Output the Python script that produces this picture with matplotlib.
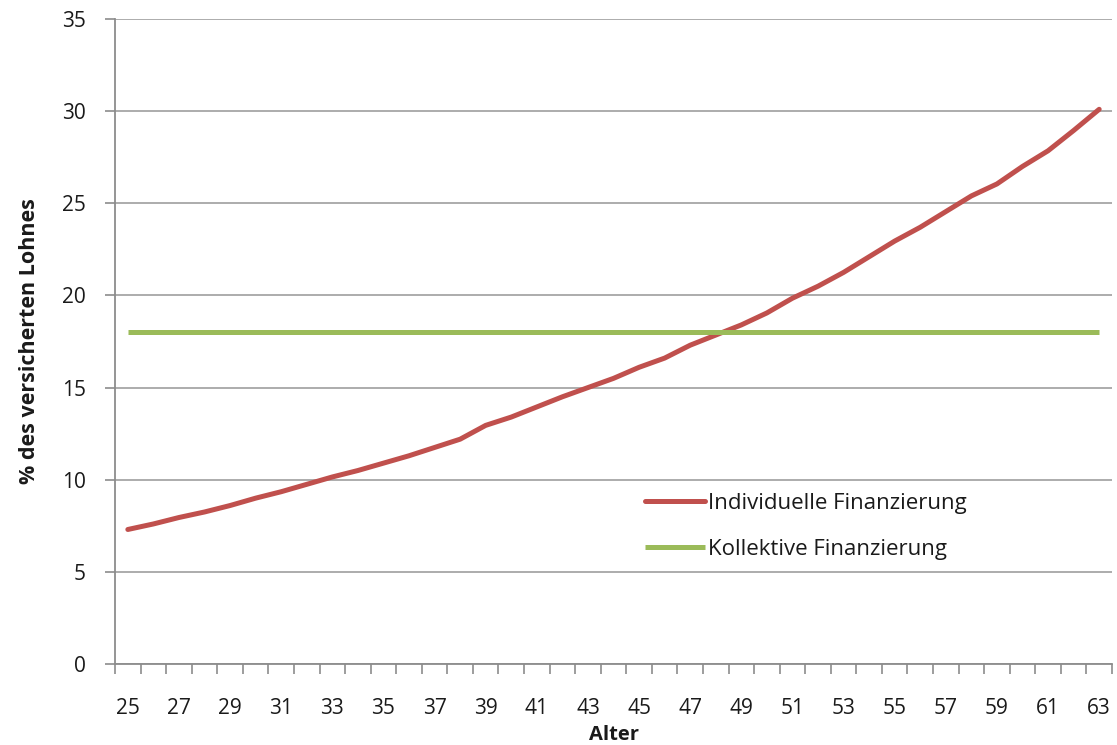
import matplotlib
matplotlib.use("Agg")
import matplotlib.pyplot as plt
from matplotlib.ticker import MultipleLocator, FixedLocator

ages = list(range(25, 64))
individuell = [7.3, 7.6, 7.95, 8.25, 8.6, 9.0, 9.35, 9.75, 10.15, 10.5,
               10.9, 11.3, 11.75, 12.2, 12.95, 13.4, 13.95, 14.5, 15.0, 15.5,
               16.1, 16.6, 17.3, 17.85, 18.4, 19.05, 19.85, 20.5, 21.25, 22.1,
               22.95, 23.7, 24.55, 25.4, 26.05, 27.0, 27.85, 28.95, 30.1]
kollektiv = [18.0] * len(ages)
series_labels = ["Individuelle Finanzierung", "Kollektive Finanzierung"]
x_label = "Alter"
y_label = "% des versicherten Lohnes"

plt.rcParams['font.family'] = ['Open Sans', 'DejaVu Sans']

fig = plt.figure(figsize=(11.17, 7.45), dpi=100)
ax = fig.add_axes([0.103, 0.1087, 0.8925, 0.8658])

ax.plot(ages, individuell, color="#C0504D", lw=3.6, label=series_labels[0],
        solid_capstyle="round", zorder=3)
ax.plot(ages, kollektiv, color="#9BBB59", lw=3.6, label=series_labels[1],
        solid_capstyle="butt", zorder=3)

ax.set_xlim(ages[0] - 0.5, ages[-1] + 0.5)
ax.set_ylim(0, 35)
ax.yaxis.set_major_locator(MultipleLocator(5))
ax.grid(axis="y", color="#A6A6A6", lw=1.3)
ax.set_axisbelow(True)

ax.xaxis.set_major_locator(FixedLocator(ages[::2]))
ax.xaxis.set_minor_locator(FixedLocator([a - 0.5 for a in ages] + [ages[-1] + 0.5]))
ax.tick_params(axis="x", which="major", length=0, pad=24.5, labelsize=15,
               labelcolor="#1a1a1a")
ax.tick_params(axis="x", which="minor", length=7, color="#8C8C8C", width=1.2)
ax.tick_params(axis="y", which="major", length=7, color="#8C8C8C", width=1.2,
               labelsize=15, pad=14, labelcolor="#1a1a1a")

for s in ["top", "right"]:
    ax.spines[s].set_visible(False)
for s in ["left", "bottom"]:
    ax.spines[s].set_color("#8C8C8C")
    ax.spines[s].set_linewidth(1.3)

ax.set_xlabel(x_label, fontsize=14.5, fontweight="bold", labelpad=4,
              color="#1a1a1a")
ax.set_ylabel(y_label, fontsize=15.5, fontweight="bold", labelpad=16,
              color="#1a1a1a")

leg = ax.legend(loc="upper left", bbox_to_anchor=(0.5226, 0.2787), frameon=False,
                fontsize=16, handlelength=2.7, handletextpad=0.15,
                labelspacing=1.1, borderaxespad=0)
for t in leg.get_texts():
    t.set_color("#1a1a1a")

fig.savefig("out.png", dpi=100)
